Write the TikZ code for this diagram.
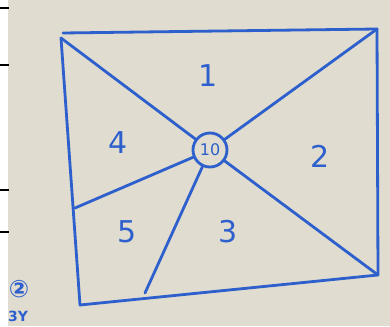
\documentclass[tikz,border=0pt]{standalone}
\usepackage{fontspec}
\setsansfont{DejaVu Sans}
\usepackage{xcolor}
\usetikzlibrary{positioning}
\definecolor{tinta}{RGB}{45,95,205}
\definecolor{papel}{RGB}{224,220,207}

\begin{document}
\begin{tikzpicture}[x=1pt, y=-1pt,
      pen/.style={draw=tinta, line width=2.8pt, line cap=round, line join=round},
      region/.style={text=tinta, font=\sffamily\fontsize{30}{30}\selectfont, inner sep=0pt},
      hub/.style={circle, pen, minimum size=34pt, inner sep=0pt, fill=papel,
        text=tinta, font=\sffamily\fontsize{16}{16}\selectfont},
      margem/.style={draw=black, line width=1.4pt}]
    \useasboundingbox (0,0) rectangle (390,326);
    \fill[white] (0,0) rectangle (8,326);
    \fill[papel] (8,0) rectangle (390,326);
    \foreach \yy in {8,65,190,232} \draw[margem] (0,\yy) -- (9,\yy);
    % corners of the sheet outline
    \coordinate (tl) at (61,38);
    \coordinate (tr) at (377,29);
    \coordinate (br) at (378,275);
    \coordinate (bl) at (80,305);
    \coordinate (lm) at (75,208);
    \coordinate (bm) at (145,293);
    \draw[pen] (63,33) -- (tr) -- (br) -- (bl) -- (tl);
    \node[hub] (ctr) at (210,150) {10};
    \draw[pen] (ctr) -- (tl); \draw[pen] (ctr) -- (tr); \draw[pen] (ctr) -- (br);
    \draw[pen] (ctr) -- (lm); \draw[pen] (ctr) -- (bm);
    \node[region] (r1) at (208,76) {1};
    \node[region] (r2) at (320,156) {2};
    \node[region] (r3) at (228,232) {3};
    \node[region] (r4) at (118,143) {4};
    \node[region] (r5) at (127,232) {5};
    \node[text=tinta, font=\sffamily\bfseries\fontsize{24}{24}\selectfont, inner sep=0pt] (nota) at (19,289) {②};
    \node[text=tinta, font=\sffamily\bfseries\fontsize{14}{14}\selectfont, inner sep=0pt] (ano) at (18,316) {3Y};
  \end{tikzpicture}
\end{document}
